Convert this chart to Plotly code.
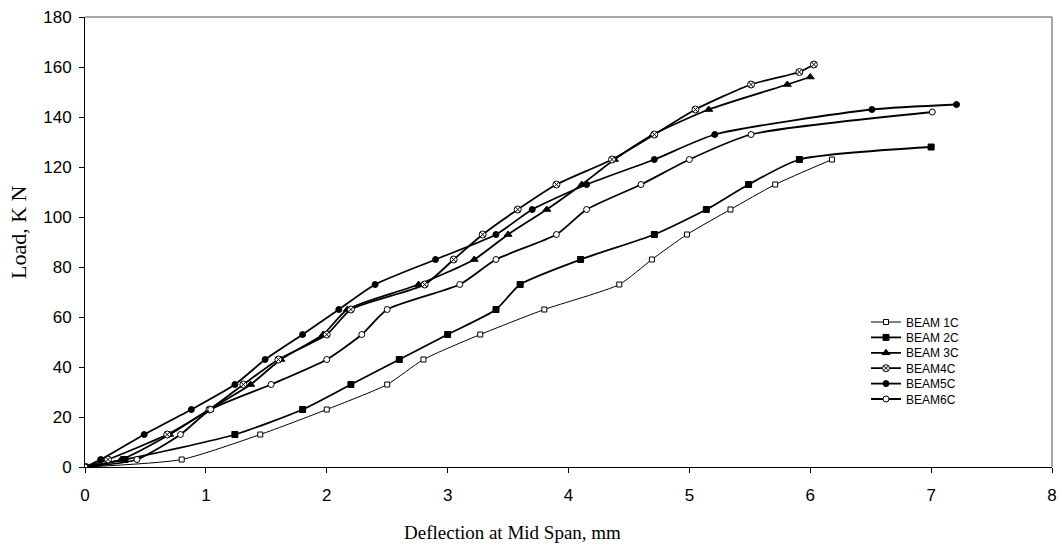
import plotly.graph_objects as go

# ---- data ----
loads_1c = [0, 3, 13, 23, 33, 43, 53, 63, 73, 83, 93, 103, 113, 123]
defl_1c = [0, 0.80, 1.45, 2.00, 2.50, 2.80, 3.27, 3.80, 4.42, 4.69, 4.98, 5.34, 5.71, 6.18]

loads_2c = [0, 3, 13, 23, 33, 43, 53, 63, 73, 83, 93, 103, 113, 123, 128]
defl_2c = [0, 0.33, 1.24, 1.80, 2.20, 2.60, 3.00, 3.40, 3.60, 4.10, 4.71, 5.14, 5.49, 5.91, 7.00]

loads_3c = [0, 3, 13, 23, 33, 43, 53, 63, 73, 83, 93, 103, 113, 123, 133, 143, 153, 156]
defl_3c = [0, 0.30, 0.70, 1.03, 1.37, 1.62, 1.97, 2.17, 2.76, 3.22, 3.50, 3.82, 4.11, 4.38, 4.70, 5.16, 5.81, 6.00]

loads_4c = [0, 3, 13, 23, 33, 43, 53, 63, 73, 83, 93, 103, 113, 123, 133, 143, 153, 158, 161]
defl_4c = [0, 0.19, 0.68, 1.03, 1.31, 1.60, 2.00, 2.20, 2.81, 3.05, 3.29, 3.58, 3.90, 4.36, 4.71, 5.05, 5.51, 5.91, 6.03]

loads_5c = [0, 3, 13, 23, 33, 43, 53, 63, 73, 83, 93, 103, 113, 123, 133, 143, 145]
defl_5c = [0, 0.13, 0.49, 0.88, 1.24, 1.49, 1.80, 2.10, 2.40, 2.90, 3.40, 3.70, 4.15, 4.71, 5.21, 6.51, 7.21]

loads_6c = [0, 3, 13, 23, 33, 43, 53, 63, 73, 83, 93, 103, 113, 123, 133, 142]
defl_6c = [0, 0.43, 0.79, 1.04, 1.54, 2.00, 2.29, 2.50, 3.10, 3.40, 3.90, 4.15, 4.60, 5.00, 5.51, 7.01]

x_ticks = [0, 1, 2, 3, 4, 5, 6, 7, 8]
y_ticks = [0, 20, 40, 60, 80, 100, 120, 140, 160, 180]

series = [
    ("BEAM 1C", defl_1c, loads_1c, "square", "white", 5, 1.0),
    ("BEAM 2C", defl_2c, loads_2c, "square", "black", 6, 1.8),
    ("BEAM 3C", defl_3c, loads_3c, "triangle-up", "black", 7, 1.8),
    ("BEAM4C", defl_4c, loads_4c, "circle-x", "white", 7, 1.8),
    ("BEAM5C", defl_5c, loads_5c, "circle", "black", 6, 1.8),
    ("BEAM6C", defl_6c, loads_6c, "circle", "white", 6, 1.8),
]

PLOT_L, PLOT_R, PLOT_T, PLOT_B = 85, 1052, 17, 467
PW, PH = PLOT_R - PLOT_L, PLOT_B - PLOT_T

fig = go.Figure()
legend_layouts = {}
for i, (name, xs, ys, sym, fill, size, lw) in enumerate(series):
    lg = "legend" if i == 0 else f"legend{i + 1}"
    fig.add_trace(go.Scatter(
        x=xs, y=ys, name=name, mode="lines+markers", legend=lg,
        line=dict(color="black", width=lw, shape="spline", smoothing=0.6),
        marker=dict(symbol=sym, size=size, color=fill,
                    line=dict(color="black", width=1)),
    ))
    center_px = 322 + 15.4 * i
    legend_layouts[lg] = dict(
        x=(866 - PLOT_L) / PW, y=(PLOT_B - center_px) / PH,
        xanchor="left", yanchor="middle",
        font=dict(family="Liberation Sans, Arial", size=12, color="black"),
        bgcolor="rgba(0,0,0,0)", borderwidth=0, itemwidth=30,
    )

tick_font = dict(family="Liberation Sans, Arial", size=17, color="black")
serif = "Liberation Serif, Times New Roman, serif"

fig.update_layout(
    width=1062, height=554,
    margin=dict(l=PLOT_L, r=1062 - PLOT_R, t=PLOT_T, b=554 - PLOT_B, autoexpand=False),
    paper_bgcolor="white", plot_bgcolor="white",
    showlegend=True,
    xaxis=dict(
        range=[0, 8], tickvals=x_ticks, ticktext=[str(v) for v in x_ticks],
        showgrid=False, zeroline=False, showline=True, linecolor="black", linewidth=1,
        ticks="outside", ticklen=5, tickcolor="black", tickfont=tick_font,
        ticklabelstandoff=8, automargin=False,
    ),
    yaxis=dict(
        range=[0, 180], tickvals=y_ticks, ticktext=[str(v) for v in y_ticks],
        showgrid=False, zeroline=False, showline=True, linecolor="black", linewidth=1,
        ticks="outside", ticklen=5, tickcolor="black", tickfont=tick_font,
        ticklabelstandoff=4, automargin=False,
    ),
    shapes=[
        dict(type="line", xref="paper", yref="paper", x0=0, x1=1, y0=1, y1=1,
             line=dict(color="#888888", width=1.5)),
        dict(type="line", xref="paper", yref="paper", x0=1, x1=1, y0=0, y1=1,
             line=dict(color="#888888", width=1.5)),
    ],
    annotations=[
        dict(text="Deflection at Mid Span, mm", xref="paper", yref="paper",
             x=(512 - PLOT_L) / PW, y=-(532 - PLOT_B) / PH, xanchor="center", yanchor="middle",
             showarrow=False, font=dict(family=serif, size=19, color="black")),
        dict(text="Load, K N", xref="paper", yref="paper",
             x=(19 - PLOT_L) / PW, y=(PLOT_B - 232) / PH, xanchor="center", yanchor="middle",
             textangle=-90, showarrow=False,
             font=dict(family=serif, size=22, color="black")),
    ],
)
fig.update_layout(**legend_layouts)

fig.write_html("out.html", config={"displayModeBar": False},
               post_script="document.body.style.margin='0';")
